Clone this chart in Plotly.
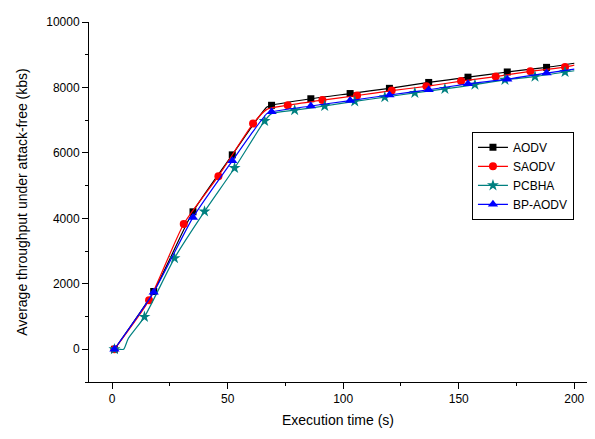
import plotly.graph_objects as go

# ---- data ----
series_names = ["AODV", "SAODV", "PCBHA", "BP-AODV"]

# marker points
aodv_x = [1, 18, 35, 52, 69, 86, 103, 120, 137, 154, 171, 188]
aodv_y = [0, 1766, 4200, 5940, 7455, 7655, 7814, 7973, 8153, 8314, 8473, 8614]

saodv_x = [1, 16, 31, 46, 61, 76, 91, 106, 121, 136, 151, 166, 181, 196]
saodv_y = [0, 1500, 3830, 5290, 6895, 7455, 7614, 7754, 7904, 8033, 8194, 8333, 8494, 8623]

pcbha_x = [1, 14, 27, 40, 53, 66, 79, 92, 105, 118, 131, 144, 157, 170, 183, 196]
pcbha_y = [0, 990, 2784, 4212, 5539, 6976, 7305, 7434, 7575, 7704, 7835, 7955, 8084, 8234, 8333, 8473]

bpaodv_x = [1, 18, 35, 52, 69, 86, 103, 120, 137, 154, 171, 188]
bpaodv_y = [0, 1746, 4030, 5758, 7255, 7434, 7600, 7770, 7930, 8110, 8254, 8440]

# full line data (marker points plus extra line samples)
aodv_line_x = [1, 18, 35, 52, 60, 67, 69, 86, 103, 120, 137, 154, 171, 188, 200]
aodv_line_y = [0, 1766, 4200, 5940, 6760, 7400, 7455, 7655, 7814, 7973, 8153, 8314, 8473, 8614, 8740]

saodv_line_x = [1, 16, 31, 46, 61, 67, 76, 91, 106, 121, 136, 151, 166, 181, 196, 200]
saodv_line_y = [0, 1500, 3830, 5290, 6895, 7330, 7455, 7614, 7754, 7904, 8033, 8194, 8333, 8494, 8623, 8680]

pcbha_line_x = [1, 3, 5, 7, 14, 27, 40, 53, 66, 69, 79, 92, 105, 118, 131, 144, 157, 170, 183, 196, 200]
pcbha_line_y = [0, 0, 0, 330, 990, 2784, 4212, 5539, 6976, 7200, 7305, 7434, 7575, 7704, 7835, 7955, 8084, 8234, 8333, 8473, 8510]

bpaodv_line_x = [1, 18, 35, 52, 60, 67, 69, 86, 103, 120, 137, 154, 171, 188, 200]
bpaodv_line_y = [0, 1746, 4030, 5758, 6560, 7200, 7255, 7434, 7600, 7770, 7930, 8110, 8254, 8440, 8560]

x_ticks = [0, 50, 100, 150, 200]
y_ticks = [0, 2000, 4000, 6000, 8000, 10000]

# ---- styling ----
colors = ["#000000", "#FF0000", "#008080", "#0000FF"]
symbols = ["square", "circle", "star", "triangle-up"]
msizes = [7, 8, 9, 9]

marker_sets = [(aodv_x, aodv_y), (saodv_x, saodv_y), (pcbha_x, pcbha_y), (bpaodv_x, bpaodv_y)]
line_sets = [(aodv_line_x, aodv_line_y), (saodv_line_x, saodv_line_y),
             (pcbha_line_x, pcbha_line_y), (bpaodv_line_x, bpaodv_line_y)]

fig = go.Figure()
for name, c, s, ms, (mx, my), (lx, ly) in zip(series_names, colors, symbols, msizes, marker_sets, line_sets):
    fig.add_trace(go.Scatter(x=lx, y=ly, mode="lines", line=dict(color=c, width=1.2, shape="spline", smoothing=0.6),
                             legendgroup=name, showlegend=False, hoverinfo="skip"))
    fig.add_trace(go.Scatter(x=mx, y=my, mode="markers", marker=dict(symbol=s, size=ms, color=c, line=dict(width=0)),
                             legendgroup=name, showlegend=False, name=name))
    fig.add_trace(go.Scatter(x=[None], y=[None], mode="lines+markers", name=name,
                             line=dict(color=c, width=1.2),
                             marker=dict(symbol=s, size=ms, color=c, line=dict(width=0)),
                             legendgroup=name, showlegend=True))

font = dict(family="Liberation Sans, Arial, sans-serif", size=12, color="#000000")

# the page body adds an 8px offset, so the figure is sized/margined to compensate
fig.update_layout(
    width=587, height=431,
    margin=dict(l=81, r=8, t=7, b=57),
    paper_bgcolor="white", plot_bgcolor="white",
    font=font,
    showlegend=True,
    legend=dict(x=0.769, y=0.695, xanchor="left", yanchor="top",
                bordercolor="#000000", borderwidth=1, bgcolor="white",
                font=dict(family="Liberation Sans, Arial, sans-serif", size=12, color="#000000"),
                tracegroupgap=0, itemwidth=30),
)

fig.update_xaxes(
    range=[-10, 205.5], tickvals=x_ticks, ticktext=[str(v) for v in x_ticks],
    showgrid=False, zeroline=False, showline=True, linecolor="#000000", linewidth=1,
    ticks="outside", ticklen=6, tickcolor="#000000", tickwidth=1,
    minor=dict(dtick=25, tick0=0, ticks="outside", ticklen=3, tickcolor="#000000", showgrid=False),
    title=dict(text="Execution time (s)", standoff=9),
)
fig.update_yaxes(
    range=[-1000, 10000], tickvals=y_ticks, ticktext=[str(v) for v in y_ticks],
    showgrid=False, zeroline=False, showline=True, linecolor="#000000", linewidth=1,
    ticks="outside", ticklen=6, tickcolor="#000000", tickwidth=1,
    minor=dict(dtick=1000, tick0=0, ticks="outside", ticklen=3, tickcolor="#000000", showgrid=False),
    title=dict(text="Average throughput under attack-free (kbs)", standoff=15),
)

fig.write_html("out.html")
